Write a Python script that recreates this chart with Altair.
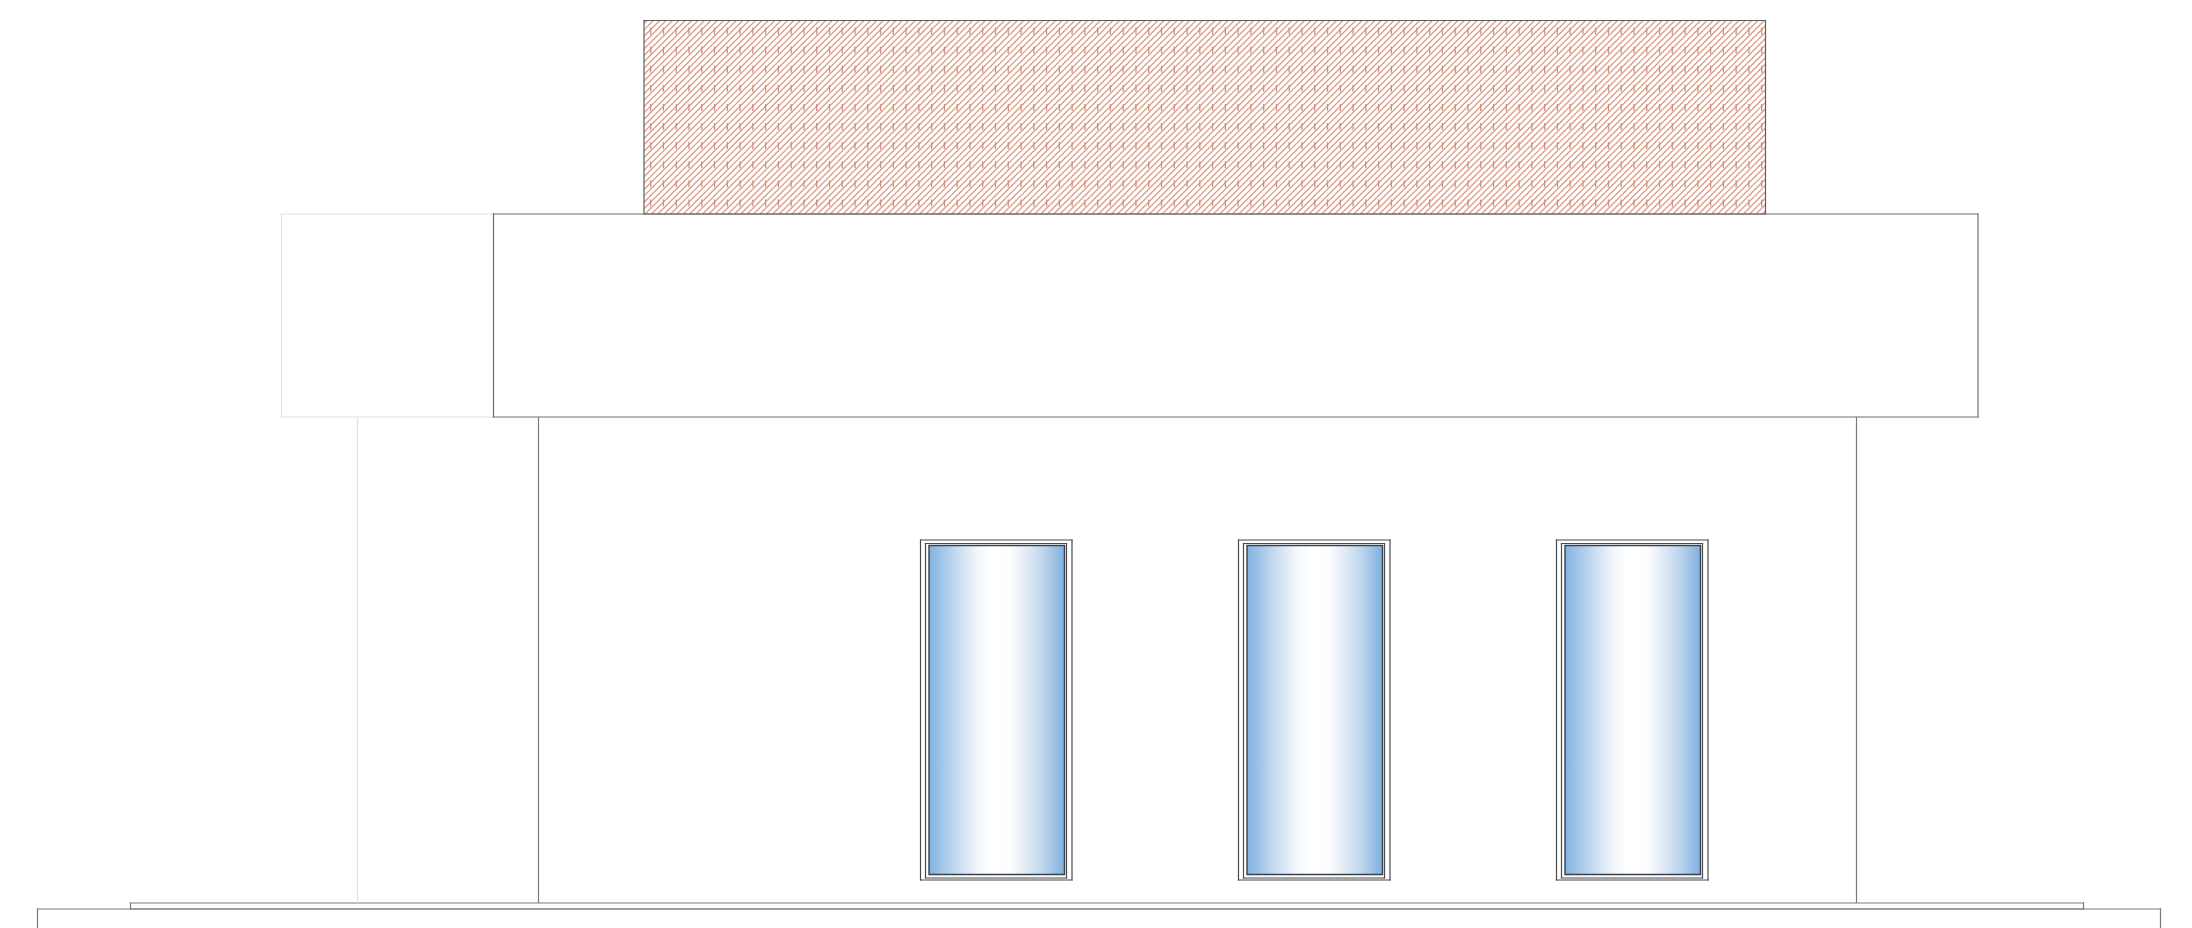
import altair as alt
import pandas as pd

# Outline boxes of the elevation: x0, x1, y0, y1, colour
box_x0 = [281.5, 493.5, 130.5, 37.5]
box_x1 = [493.5, 1978.0, 2083.5, 2160.5]
box_y0 = [214.0, 214.0, 903.0, 909.0]
box_y1 = [417.0, 417.0, 909.0, 940.0]
box_col = ["#e2e2e2", "#6f6f6f", "#7a7a7a", "#7a7a7a"]

# Wall lines
wall_x = [357.5, 538.5, 1856.5]
wall_y0 = [417.0, 417.0, 417.0]
wall_y1 = [903.0, 903.0, 903.0]
wall_col = ["#e2e2e2", "#7a7a7a", "#7a7a7a"]

# Windows
win_outer_x0 = [920.5, 1238.5, 1556.5]
win_width_outer = 151.5
win_frame_dx0, win_frame_dx1 = 5.0, 146.0
win_glass_dx0, win_glass_dx1 = 8.5, 144.0
win_y = [540.0, 543.5, 545.5, 874.5, 878.0, 880.0]

# Hatched panel
hatch_x0, hatch_x1, hatch_y0, hatch_y1 = 644.0, 1765.5, 20.5, 214.0
hatch_step = 6.385
tick_step_x = 12.77
tick_first_x = 650.7
tick_rows = [31.0, 50.1, 69.2, 88.3, 107.4, 126.5, 145.6, 164.7, 183.8, 202.9]
tick_half = 3.5

X = alt.Scale(domain=[8, 2184], range=[0, 2176], nice=False, zero=False)
Y = alt.Scale(domain=[928, 8], range=[920, 0], nice=False, zero=False)


def xq(f):
    return alt.X(f, type="quantitative", scale=X, axis=None)


def yq(f):
    return alt.Y(f, type="quantitative", scale=Y, axis=None)


def seg_layer(df, width, color=None, cap="butt"):
    kw = dict(strokeWidth=width, strokeCap=cap)
    enc = dict(x=xq("x"), x2="x2", y=yq("y"), y2="y2")
    if color is None:
        enc["color"] = alt.Color("c:N", scale=None)
    else:
        kw["color"] = color
    return alt.Chart(df).mark_rule(**kw).encode(**enc)


def outline(x0, x1, y0, y1, col):
    rows = []
    for a, b, c, d, k in zip(x0, x1, y0, y1, col):
        rows += [
            dict(x=a, x2=b, y=c, y2=c, c=k),
            dict(x=a, x2=b, y=d, y2=d, c=k),
            dict(x=a, x2=a, y=c, y2=d, c=k),
            dict(x=b, x2=b, y=c, y2=d, c=k),
        ]
    return rows


# hatch diagonals, clipped to the panel
diag = []
c = hatch_x0 + hatch_y0 + 3.0
while c < hatch_x1 + hatch_y1:
    ya = max(hatch_y0, c - hatch_x1)
    yb = min(hatch_y1, c - hatch_x0)
    diag.append(dict(x=c - ya, x2=c - yb, y=ya, y2=yb))
    c += hatch_step
ticks = []
n = 0
while tick_first_x + n * tick_step_x < hatch_x1:
    for r in tick_rows:
        ticks.append(dict(x=tick_first_x + n * tick_step_x, x2=tick_first_x + n * tick_step_x,
                          y=r - tick_half, y2=r + tick_half))
    n += 1

gradient = alt.LinearGradient(
    gradient="linear", x1=0, x2=1, y1=0, y2=0,
    stops=[
        alt.GradientStop(offset=0.0, color="#82b3e1"),
        alt.GradientStop(offset=0.1, color="#a3c6e8"),
        alt.GradientStop(offset=0.22, color="#cbddf0"),
        alt.GradientStop(offset=0.36, color="#f2f6fb"),
        alt.GradientStop(offset=0.46, color="#ffffff"),
        alt.GradientStop(offset=0.6, color="#fdfeff"),
        alt.GradientStop(offset=0.7, color="#e6eef7"),
        alt.GradientStop(offset=0.85, color="#bcd4ec"),
        alt.GradientStop(offset=1.0, color="#7fb0e0"),
    ],
)

layers = [
    seg_layer(pd.DataFrame(diag), 1.35, "#dc9f8a"),
    seg_layer(pd.DataFrame(ticks), 1.3, "#cf8f78"),
    seg_layer(pd.DataFrame(outline([hatch_x0], [hatch_x1], [hatch_y0], [hatch_y1], ["#5e5e5e"])), 1.2, cap="square"),
    seg_layer(pd.DataFrame(outline(box_x0, box_x1, box_y0, box_y1, box_col)), 1.2, cap="square"),
    seg_layer(pd.DataFrame(dict(x=wall_x, x2=wall_x, y=wall_y0, y2=wall_y1, c=wall_col)), 1.2),
]

glass = pd.DataFrame({
    "x": [w + win_glass_dx0 for w in win_outer_x0],
    "x2": [w + win_glass_dx1 for w in win_outer_x0],
    "y": [win_y[2]] * 3,
    "y2": [win_y[3]] * 3,
})
layers.append(
    alt.Chart(glass).mark_rect(fill=gradient, stroke="#36414d", strokeWidth=1.4).encode(
        x=xq("x"), x2="x2", y=yq("y"), y2="y2"
    )
)
rows = []
for w in win_outer_x0:
    rows += outline([w], [w + win_width_outer], [win_y[0]], [win_y[5]], ["#4a4a4a"])
    rows += outline([w + win_frame_dx0], [w + win_frame_dx1], [win_y[1]], [win_y[4]], ["#4a4a4a"])
layers.append(seg_layer(pd.DataFrame(rows), 1.2, cap="square"))

chart = alt.layer(*layers).properties(
    width=2176, height=920, padding=0, background="#ffffff"
).configure_view(strokeWidth=0)

chart.save("out.html", embed_options={"renderer": "svg", "actions": False})
